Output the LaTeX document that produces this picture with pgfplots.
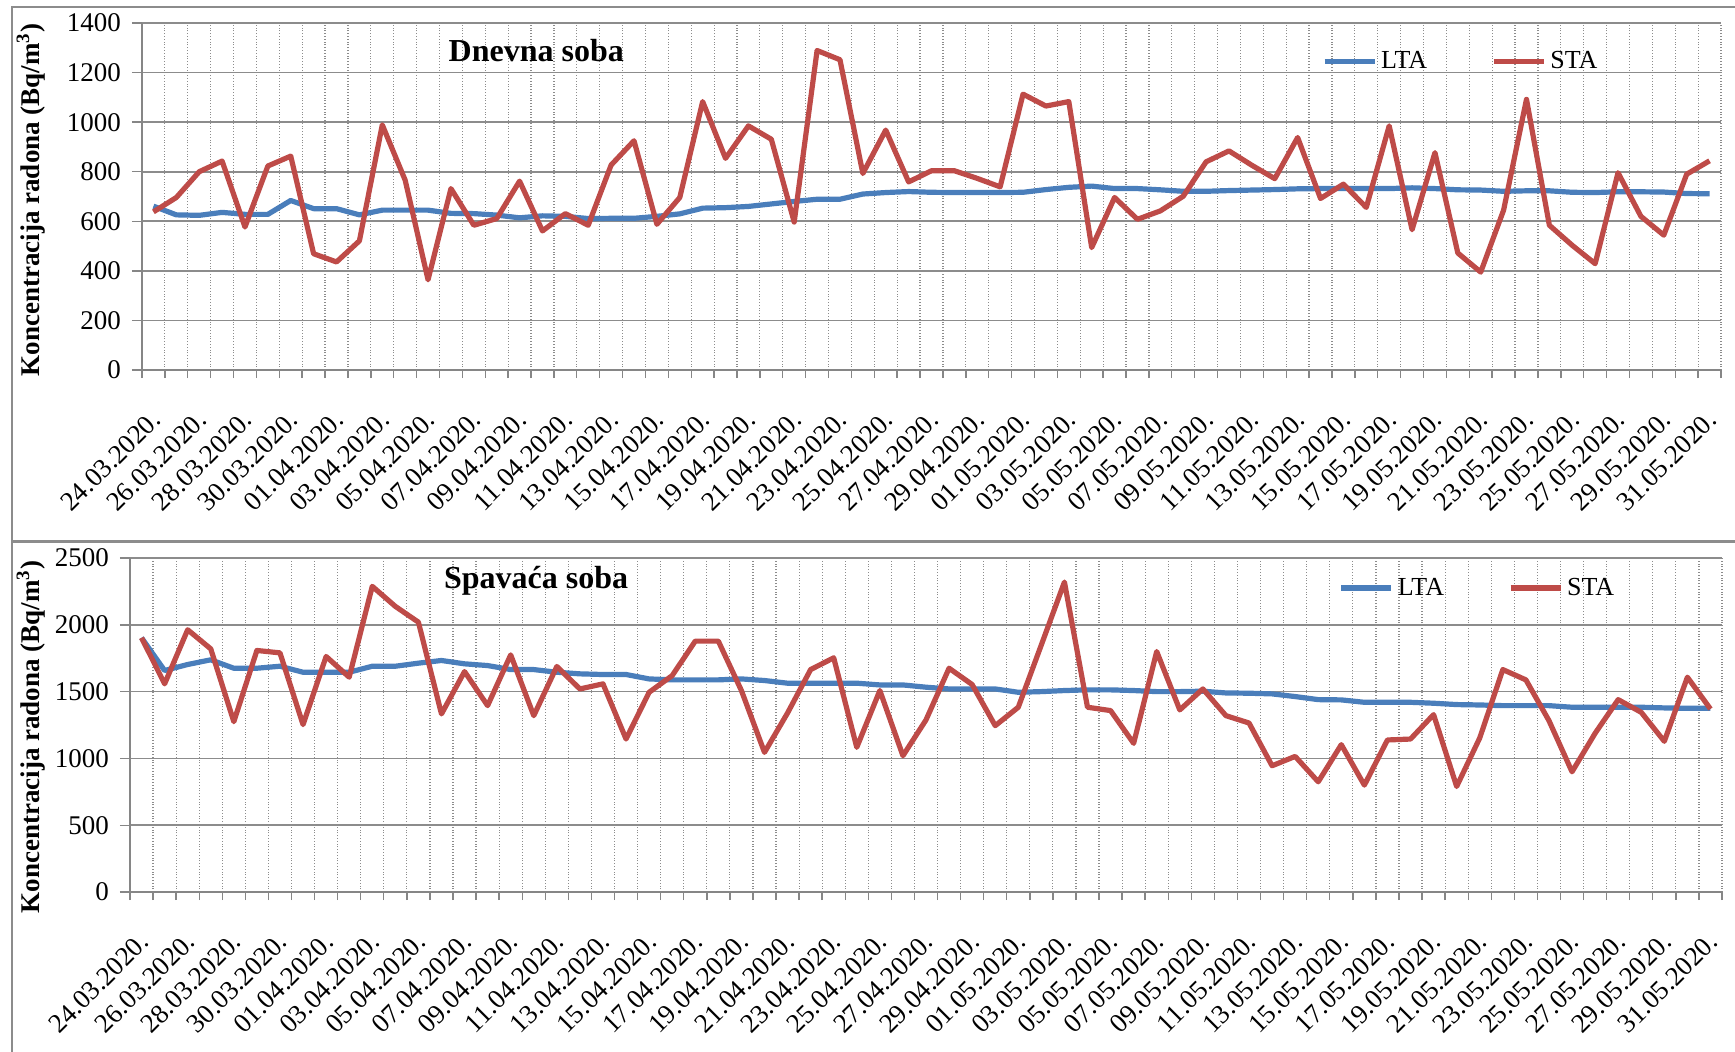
\documentclass[border=0pt]{standalone}
\usepackage{fontspec}
\setmainfont{Liberation Serif}
\usepackage{pgfplots}
\usepackage{pgfplotstable}
\pgfplotsset{compat=1.18}
\definecolor{ltablue}{HTML}{4A7EBB}
\definecolor{stared}{HTML}{BE4B48}
\definecolor{axgray}{HTML}{868686}
\definecolor{gridgray}{HTML}{8C8C8C}
\definecolor{framegray}{HTML}{8C8C8C}

\pgfplotstableread{
x lta sta
0 661 638
1 626 696
2 624 800
3 636 843
4 628 577
5 628 823
6 684 863
7 651 469
8 651 436
9 626 521
10 645 989
11 645 766
12 645 364
13 632 732
14 631 584
15 625 611
16 614 762
17 622 561
18 620 631
19 611 584
20 612 827
21 612 925
22 620 588
23 630 696
24 653 1083
25 655 854
26 660 985
27 670 931
28 680 597
29 689 1289
30 689 1252
31 710 793
32 716 968
33 720 759
34 717 804
35 716 804
36 716 773
37 716 739
38 717 1113
39 728 1065
40 737 1083
41 742 494
42 732 696
43 732 608
44 727 642
45 721 701
46 721 840
47 724 884
48 726 826
49 728 772
50 731 938
51 732 692
52 732 750
53 732 656
54 732 985
55 735 566
56 732 877
57 727 472
58 726 395
59 721 645
60 723 1092
61 723 584
62 717 503
63 716 429
64 719 796
65 719 620
66 718 544
67 712 790
68 711 844
}\dnevna

\pgfplotstableread{
x lta sta
0 1903 1903
1 1658 1558
2 1703 1963
3 1738 1820
4 1675 1275
5 1675 1808
6 1690 1790
7 1645 1253
8 1645 1763
9 1645 1608
10 1690 2288
11 1690 2138
12 1713 2020
13 1733 1333
14 1708 1650
15 1695 1395
16 1665 1775
17 1665 1320
18 1645 1688
19 1633 1520
20 1628 1558
21 1628 1145
22 1595 1495
23 1588 1620
24 1588 1878
25 1588 1878
26 1595 1508
27 1583 1045
28 1563 1340
29 1563 1665
30 1563 1753
31 1563 1083
32 1550 1508
33 1550 1020
34 1533 1288
35 1520 1675
36 1520 1553
37 1520 1245
38 1495 1383
39 1500 1850
40 1508 2320
41 1513 1383
42 1513 1358
43 1508 1113
44 1500 1800
45 1500 1363
46 1503 1520
47 1490 1320
48 1488 1265
49 1483 945
50 1463 1015
51 1440 825
52 1438 1103
53 1420 800
54 1420 1138
55 1420 1145
56 1413 1328
57 1403 790
58 1400 1153
59 1395 1665
60 1395 1588
61 1395 1283
62 1383 900
63 1383 1188
64 1383 1440
65 1383 1345
66 1378 1128
67 1375 1608
68 1375 1370
}\spavaca

\pgfplotsset{
  radonstyle/.style={
    scale only axis,
    xmin=-0.5, xmax=68.5,
    ymin=0,
    axis x line*=bottom,
    axis y line*=left,
    axis line style={axgray, line width=0.9pt, -},
    tick align=outside,
    xtick={0,2,...,68},
    xticklabels={24.03.2020.,26.03.2020.,28.03.2020.,30.03.2020.,01.04.2020.,03.04.2020.,05.04.2020.,07.04.2020.,09.04.2020.,11.04.2020.,13.04.2020.,15.04.2020.,17.04.2020.,19.04.2020.,21.04.2020.,23.04.2020.,25.04.2020.,27.04.2020.,29.04.2020.,01.05.2020.,03.05.2020.,05.05.2020.,07.05.2020.,09.05.2020.,11.05.2020.,13.05.2020.,15.05.2020.,17.05.2020.,19.05.2020.,21.05.2020.,23.05.2020.,25.05.2020.,27.05.2020.,29.05.2020.,31.05.2020.},
    minor xtick={-0.5,0.5,...,68.5},
    major x tick style={draw=none},
    minor x tick style={axgray, line width=0.7pt},
    major y tick style={axgray, line width=0.7pt},
    major tick length=5pt,
    minor tick length=4pt,
    xmajorgrids=false,
    xminorgrids=true,
    ymajorgrids=true,
    minor x grid style={gridgray, densely dotted, line width=0.6pt},
    major y grid style={gridgray, line width=0.8pt},
    /pgf/number format/assume math mode=true,
    /pgf/number format/1000 sep={},
    tick label style={font=\fontsize{13.5}{16}\selectfont, text=black},
    xticklabel style={anchor=north east, inner sep=1pt, xshift=-2pt, yshift=-13pt, rotate=45},
    yticklabel style={anchor=east, xshift=-2pt},
    legend style={draw=none, fill=none, inner sep=0pt, legend columns=2,
      font=\fontsize{13}{15}\selectfont, anchor=west,
      /tikz/every even column/.append style={column sep=30pt}},
    legend cell align=left,
    legend image code/.code={\draw[#1] (0pt,0pt) -- (25pt,0pt);},
    clip=false,
  }
}

\begin{document}
\begin{tikzpicture}
\path[use as bounding box] (0pt,0pt) rectangle (867.5pt,-525.5pt);
% frames
\draw[framegray, line width=1.1pt] (5.85pt,-540pt) -- (5.85pt,-3.65pt) -- (880pt,-3.65pt);
\draw[framegray, line width=1.3pt] (5.85pt,-270.85pt) -- (880pt,-270.85pt);

% Top: Dnevna soba
\begin{axis}[radonstyle,
  at={(71pt,-185pt)}, anchor=south west,
  width=789.5pt, height=173.5pt,
  ymax=1400, ytick={0,200,...,1400},
  ylabel={Koncentracija radona (Bq/m\textsuperscript{3})},
  every axis y label/.style={at={(rel axis cs:0,0.49)}, xshift=-55.5pt, rotate=90, anchor=center, font=\bfseries\fontsize{13.5}{16}\selectfont},
  legend style={at={(rel axis cs:0.747,0.890)}},
]
\addplot[ltablue, line width=2.6pt, line join=round] table[x=x, y=lta] {\dnevna};
\addlegendentry{LTA}
\addplot[stared, line width=2.6pt, line join=round] table[x=x, y=sta] {\dnevna};
\addlegendentry{STA}
\node[anchor=west, font=\bfseries\fontsize{16}{19}\selectfont, inner sep=0pt] at (rel axis cs:0.194,0.922) {Dnevna soba};
\end{axis}

% Bottom: Spavaca soba
\begin{axis}[radonstyle,
  at={(65pt,-446pt)}, anchor=south west,
  width=796pt, height=167pt,
  ymax=2500, ytick={0,500,...,2500},
  ylabel={Koncentracija radona (Bq/m\textsuperscript{3})},
  every axis y label/.style={at={(rel axis cs:0,0.464)}, xshift=-49.5pt, rotate=90, anchor=center, font=\bfseries\fontsize{13.5}{16}\selectfont},
  legend style={at={(rel axis cs:0.759,0.91)}},
]
\addplot[ltablue, line width=2.6pt, line join=round] table[x=x, y=lta] {\spavaca};
\addlegendentry{LTA}
\addplot[stared, line width=2.6pt, line join=round] table[x=x, y=sta] {\spavaca};
\addlegendentry{STA}
\node[anchor=west, font=\bfseries\fontsize{16}{19}\selectfont, inner sep=0pt] at (rel axis cs:0.197,0.931) {Spavaća soba};
\end{axis}
\end{tikzpicture}
\end{document}
